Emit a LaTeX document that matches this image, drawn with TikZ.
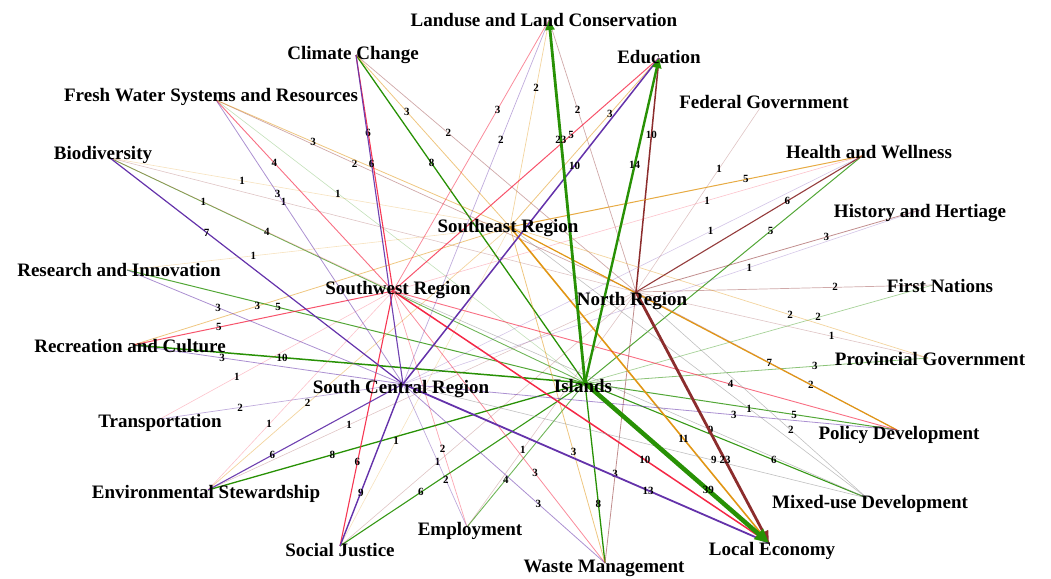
\documentclass[tikz,border=0pt]{standalone}
\usepackage{fontspec}
\setmainfont{Liberation Serif}
\usepackage{xcolor}
\usepackage{tikz}
\usetikzlibrary{arrows.meta}
\definecolor{islgreen}{RGB}{40, 145, 5}
\definecolor{norbrown}{RGB}{140, 45, 45}
\definecolor{seaorange}{RGB}{225, 150, 20}
\definecolor{swrred}{RGB}{245, 40, 70}
\definecolor{scapurple}{RGB}{100, 50, 170}
\definecolor{mixgray}{RGB}{150, 150, 150}

\begin{document}
\begin{tikzpicture}[
    x=1pt, y=-1pt,
    topic/.style={font=\bfseries\fontsize{19}{19}\selectfont, inner sep=0pt},
    region/.style={topic},
    wlab/.style={text=black, font=\bfseries\fontsize{11}{11}\selectfont, inner sep=0pt, pos=0.67},
    faint/.style={mixgray, line width=0.6pt, draw opacity=0.6}
]
    \useasboundingbox (0,0) rectangle (1051,578);

    % hubs of the five regions
    \coordinate (isl) at (585,383);
    \coordinate (nor) at (636,292);
    \coordinate (sea) at (510,227);
    \coordinate (swr) at (393,291);
    \coordinate (sca) at (403,384);

    % hubs of the topics
    \coordinate (landuse) at (549,20);
    \coordinate (education) at (659,58);
    \coordinate (climate) at (356,55);
    \coordinate (fresh) at (216,100);
    \coordinate (biodiv) at (110,158);
    \coordinate (federal) at (760,108);
    \coordinate (health) at (862,156);
    \coordinate (history) at (920,210);
    \coordinate (firstnat) at (933,285);
    \coordinate (provgov) at (928,358);
    \coordinate (policy) at (897,430);
    \coordinate (mixed) at (867,498);
    \coordinate (localecon) at (769,543);
    \coordinate (waste) at (605,563);
    \coordinate (employ) at (467,527);
    \coordinate (socjust) at (340,546);
    \coordinate (envstew) at (208,490);
    \coordinate (transport) at (160,419);
    \coordinate (recreation) at (133,345);
    \coordinate (research) at (127,270);

    % weighted links, one loop per region
    \foreach \t/\w in {fresh/1, firstnat/2, provgov/3, biodiv/4, employ/4, research/5, policy/5, health/5, socjust/6, mixed/6, climate/8, envstew/8, waste/8, recreation/10} {
        \pgfmathsetmacro{\ew}{0.5+0.1*\w}
        \pgfmathsetmacro{\eo}{min(0.15+0.13*\w,1)}
        \draw[islgreen, line width=\ew pt, draw opacity=\eo] (isl) -- node[wlab] {\w} (\t);
    }
    \foreach \t/\w in {federal/1, provgov/1, biodiv/1, employ/1, envstew/1, socjust/1, firstnat/2, landuse/2, policy/2, climate/2, fresh/2, history/3, waste/3, health/6, education/10} {
        \pgfmathsetmacro{\ew}{0.5+0.1*\w}
        \pgfmathsetmacro{\eo}{min(0.15+0.13*\w,1)}
        \draw[norbrown, line width=\ew pt, draw opacity=\eo] (nor) -- node[wlab] {\w} (\t);
    }
    \foreach \t/\w in {biodiv/1, research/1, socjust/1, provgov/2, landuse/2, envstew/2, education/3, climate/3, fresh/3, recreation/3, waste/3, health/5, policy/7, localecon/11} {
        \pgfmathsetmacro{\ew}{0.5+0.1*\w}
        \pgfmathsetmacro{\eo}{min(0.15+0.13*\w,1)}
        \draw[seaorange, line width=\ew pt, draw opacity=\eo] (sea) -- node[wlab] {\w} (\t);
    }
    \foreach \t/\w in {biodiv/1, health/1, transport/1, envstew/1, employ/2, landuse/3, waste/3, fresh/4, policy/4, education/5, recreation/5, climate/6, socjust/6, localecon/10} {
        \pgfmathsetmacro{\ew}{0.5+0.1*\w}
        \pgfmathsetmacro{\eo}{min(0.15+0.13*\w,1)}
        \draw[swrred, line width=\ew pt, draw opacity=\eo] (swr) -- node[wlab] {\w} (\t);
    }
    \foreach \t/\w in {health/1, history/1, transport/2, employ/2, landuse/2, fresh/3, research/3, recreation/3, waste/3, policy/3, climate/6, envstew/6, biodiv/7, socjust/9, education/10, localecon/13} {
        \pgfmathsetmacro{\ew}{0.5+0.1*\w}
        \pgfmathsetmacro{\eo}{min(0.15+0.13*\w,1)}
        \draw[scapurple, line width=\ew pt, draw opacity=\eo] (sca) -- node[wlab] {\w} (\t);
    }

    % grey links into mixed-use
    \draw[faint] (sea) -- node[wlab] {1} (mixed);
    \draw[faint] (nor) -- node[wlab] {2} (mixed);
    \draw[faint] (swr) -- node[wlab] {9} (mixed);
    \draw[faint] (sca) -- node[wlab] {9} (mixed);

    % heaviest links with arrow heads
    \draw[islgreen, line width=2.8pt, -{Triangle[length=10pt, width=9pt]}] (isl) -- node[wlab] {23} (landuse);
    \draw[islgreen, line width=2.4pt, -{Triangle[length=10pt, width=9pt]}] (isl) -- node[wlab] {14} (education);
    \draw[norbrown, line width=2.8pt, -{Triangle[length=12pt, width=10pt]}] (nor) -- node[wlab] {23} (localecon);
    \draw[islgreen, line width=4.5pt, -{Triangle[length=14pt, width=13pt]}] (isl) -- node[wlab] {39} (localecon);

    % region names
    \node[region] (sea-lbl) at (508,228) {Southeast Region};
    \node[region] (swr-lbl) at (398,290) {Southwest Region};
    \node[region] (nor-lbl) at (632,301) {North Region};
    \node[region] (sca-lbl) at (401,389) {South Central Region};
    \node[region] (isl-lbl) at (583,386) {Islands};

    % topic names
    \node[topic] (landuse-lbl) at (544,20) {Landuse and Land Conservation};
    \node[topic] (education-lbl) at (659,57) {Education};
    \node[topic] (climate-lbl) at (353,55) {Climate Change};
    \node[topic] (fresh-lbl) at (211,97) {Fresh Water Systems and Resources};
    \node[topic] (biodiv-lbl) at (103,155) {Biodiversity};
    \node[topic] (federal-lbl) at (764,102) {Federal Government};
    \node[topic] (health-lbl) at (869,152) {Health and Wellness};
    \node[topic] (history-lbl) at (920,213) {History and Hertiage};
    \node[topic] (firstnat-lbl) at (940,286) {First Nations};
    \node[topic] (provgov-lbl) at (930,359) {Provincial Government};
    \node[topic] (policy-lbl) at (899,435) {Policy Development};
    \node[topic] (mixed-lbl) at (870,504) {Mixed-use Development};
    \node[topic] (localecon-lbl) at (772,551) {Local Economy};
    \node[topic] (waste-lbl) at (604,568) {Waste Management};
    \node[topic] (employ-lbl) at (470,531) {Employment};
    \node[topic] (socjust-lbl) at (340,550) {Social Justice};
    \node[topic] (envstew-lbl) at (206,494) {Environmental Stewardship};
    \node[topic] (transport-lbl) at (160,423) {Transportation};
    \node[topic] (recreation-lbl) at (130,346) {Recreation and Culture};
    \node[topic] (research-lbl) at (119,270) {Research and Innovation};
\end{tikzpicture}
\end{document}
